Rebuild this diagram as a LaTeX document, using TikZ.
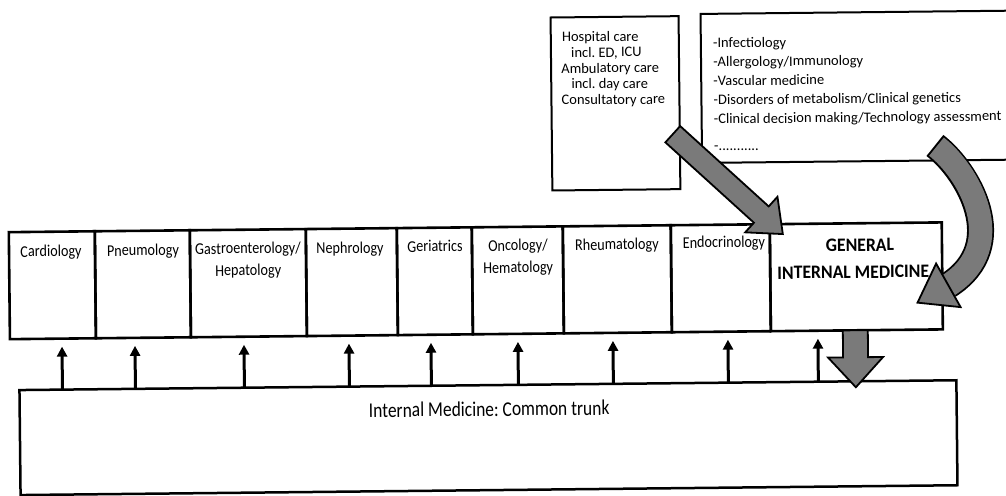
\documentclass[tikz,border=0pt]{standalone}
\usepackage{fontspec}
\setmainfont{Carlito}
\newfontfamily\condfont{Carlito}[FakeStretch=0.86]
\newfontfamily\trunkfont{Carlito}[FakeStretch=0.83]
\newfontfamily\gimfont{Carlito}[FakeStretch=0.93]
\usetikzlibrary{arrows.meta,calc}
\definecolor{agray}{gray}{0.48}
\frenchspacing
\begin{document}
\begin{tikzpicture}[x=1pt,y=-1pt,
  specbox/.style={draw, line width=2.6pt, inner sep=0pt, outer sep=0pt, minimum height=107pt},
  spectext/.style={inner sep=0pt, anchor=base, font=\condfont\fontsize{16.5}{19}\selectfont},
  gimtext/.style={inner sep=0pt, anchor=base, font=\gimfont\bfseries\fontsize{19}{22}\selectfont},
  toptext/.style={inner sep=0pt, anchor=base west, font=\fontsize{14.5}{17}\selectfont},
  topbox/.style={draw, line width=2pt, inner sep=0pt, outer sep=0pt},
  uparr/.style={line width=3pt, -{Triangle[width=10pt,length=10pt]}},
  bigarrow/.style={fill=agray, draw=black, line width=1.8pt, line join=miter},
]
\useasboundingbox (0,0) rectangle (1006,495);
\begin{scope}[rotate around={0.6:(503,250)}, transform shape]
% ---- top boxes
\node[topbox, minimum width=128pt, minimum height=173pt] (hosp) at (617,104.5) {};
\node[topbox, minimum width=309pt, minimum height=149pt] (topics) at (857.5,90.5) {};
\node[toptext] (h1) at (564,42.5) {Hospital care};
\node[toptext] (h2) at (573,58.2) {incl. ED, ICU};
\node[toptext] (h3) at (563,74) {Ambulatory care};
\node[toptext] (h4) at (573,89.7) {incl. day care};
\node[toptext] (h5) at (563,105.5) {Consultatory care};
\node[toptext] (t1) at (715,50) {-Infectiology};
\node[toptext] (t2) at (715,69) {-Allergology/Immunology};
\node[toptext] (t3) at (715,88) {-Vascular medicine};
\node[toptext] (t4) at (715,107) {-Disorders of metabolism/Clinical genetics};
\node[toptext] (t5) at (715,126) {-Clinical decision making/Technology assessment};
\node[toptext] (t6) at (715,153) {-...........};
% ---- specialty row
\node[specbox, minimum width=86pt]  (card) at (52,280.5) {};
\node[specbox, minimum width=95pt]  (pneu) at (142.5,280.5) {};
\node[specbox, minimum width=116pt] (gast) at (248,280.5) {};
\node[specbox, minimum width=91pt]  (neph) at (351.5,280.5) {};
\node[specbox, minimum width=75pt]  (geri) at (434.5,280.5) {};
\node[specbox, minimum width=91pt]  (onco) at (517.5,280.5) {};
\node[specbox, minimum width=108pt] (rheu) at (617,280.5) {};
\node[specbox, minimum width=99pt]  (endo) at (720.5,280.5) {};
\node[specbox, minimum width=172pt] (gim)  at (856,280.5) {};
\node[spectext] (cardl) at (51,252) {Cardiology};
\node[spectext] (pneul) at (143,252) {Pneumology};
\node[spectext] (gastl1) at (248,251) {Gastroenterology/};
\node[spectext] (gastl2) at (248,273) {Hepatology};
\node[spectext] (nephl) at (350,252) {Nephrology};
\node[spectext] (geril) at (435,251) {Geriatrics};
\node[spectext] (oncol1) at (518,251) {Oncology/};
\node[spectext] (oncol2) at (518,273) {Hematology};
\node[spectext] (rheul) at (617,251) {Rheumatology};
\node[spectext] (endol) at (724,250) {Endocrinology};
\node[gimtext] (giml1) at (860,255) {GENERAL};
\node[gimtext] (giml2) at (853,282) {INTERNAL MEDICINE};
% ---- common trunk
\node[draw, line width=2.5pt, inner sep=0pt, outer sep=0pt, minimum width=937pt, minimum height=105pt] (trunk) at (486.5,437.5) {};
\node[inner sep=0pt, anchor=base, font=\trunkfont\fontsize{21}{24}\selectfont] (trunkl) at (487.5,416) {Internal Medicine: Common trunk};
% ---- up arrows
\foreach \x [count=\i] in {61,134,243,348,430,517,612,727,817}{
  \coordinate (ub\i) at (\x,385);
  \coordinate (ut\i) at (\x,342);
  \draw[uparr] (ub\i) -- (ut\i);
}
% ---- down block arrow from GIM to trunk
\path (gim.south) ++(-1.5,0) coordinate (dtop);
\path (dtop) ++(0,57) coordinate (dtip);
\filldraw[bigarrow] ($(dtop)+(-12.5,0)$) -- ($(dtop)+(12.5,0)$) -- ($(dtop)+(12.5,27)$) -- ($(dtop)+(27.5,27)$)
   -- (dtip) -- ($(dtop)+(-27.5,27)$) -- ($(dtop)+(-12.5,27)$) -- cycle;
% ---- diagonal block arrow from hospital box to GIM
\coordinate (dA) at (674,136);
\coordinate (dT) at (783,237);
\coordinate (dH) at ($(dT)!29pt!(dA)$);
\filldraw[bigarrow] ($(dA)!11pt!90:(dT)$) -- ($(dH)!11pt!-90:(dA)$) -- ($(dH)!24pt!-90:(dA)$) -- (dT)
   -- ($(dH)!24pt!90:(dA)$) -- ($(dH)!11pt!90:(dA)$) -- ($(dA)!11pt!-90:(dT)$) -- cycle;
% ---- curved block arrow from topics box to GIM
\coordinate (cA) at (936,150);
\coordinate (cE) at (948,290);
\coordinate (cT) at (917,307);
\draw[line width=27pt, black] (cA) .. controls (968,175) and (1012,250) .. (cE);
\draw[line width=23.4pt, agray, shorten <=2pt] (cA) .. controls (968,175) and (1012,250) .. (cE);
\filldraw[bigarrow] ($(cE)!25pt!90:(cT)$) -- (cT) -- ($(cE)!25pt!-90:(cT)$) -- cycle;
\end{scope}
\end{tikzpicture}
\end{document}
